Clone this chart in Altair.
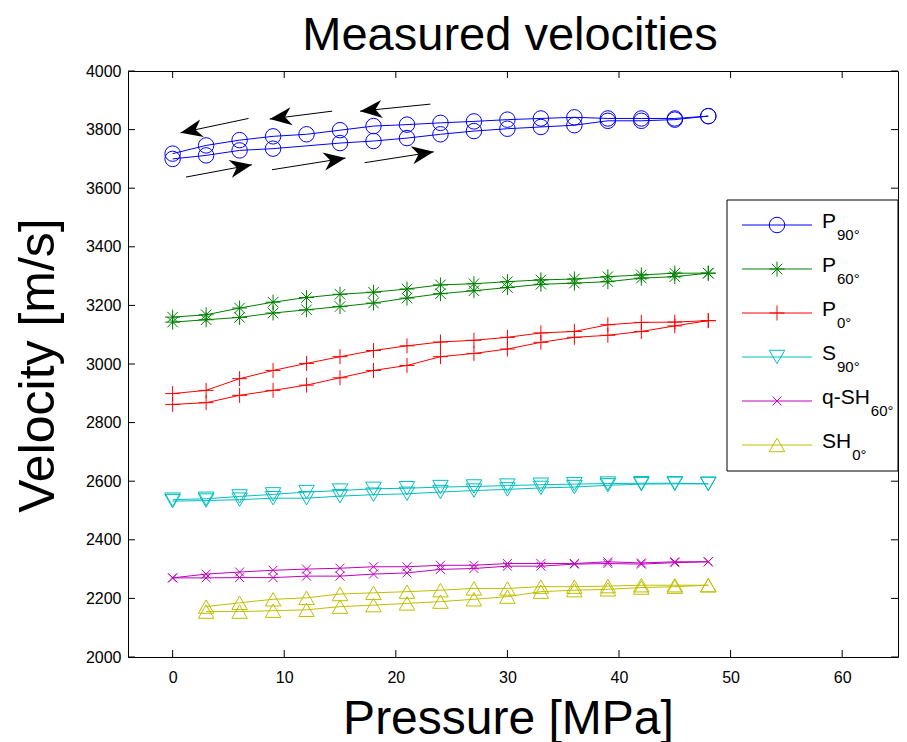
import math
import altair as alt
import pandas as pd

FONT = "Liberation Sans"

# ---------------- data ----------------
pressure = [0, 3, 6, 9, 12, 15, 18, 21, 24, 27, 30, 33, 36, 39, 42, 45, 48]
pressure_sh0 = [3, 6, 9, 12, 15, 18, 21, 24, 27, 30, 33, 36, 39, 42, 45, 48]

p90_loading = [3700, 3712, 3729, 3735, None, 3754, 3761, 3771, 3784, 3795, 3803, 3809, 3815, 3830, 3830, 3834, 3846]
p90_unloading = [3718, 3746, 3764, 3777, 3784, 3798, 3812, 3817, 3823, 3828, 3834, 3838, 3842, 3838, 3838, 3838, 3846]

p60_loading = [3143, 3151, 3159, 3174, 3185, 3196, 3208, 3225, 3240, 3250, 3261, 3272, 3276, 3281, 3293, 3298, 3310]
p60_unloading = [3160, 3168, 3191, 3211, 3227, 3238, 3245, 3256, 3270, 3274, 3281, 3287, 3290, 3298, 3304, 3310, 3310]

p0_loading = [2862, 2868, 2893, 2910, 2928, 2953, 2978, 2995, 3025, 3036, 3051, 3074, 3091, 3098, 3111, 3130, 3148]
p0_unloading = [2899, 2910, 2950, 2978, 3002, 3025, 3046, 3062, 3075, 3081, 3091, 3106, 3111, 3134, 3142, 3143, 3148]

s90_loading = [2532, 2534, 2537, 2542, 2542, 2549, 2554, 2557, 2563, 2568, 2572, 2577, 2580, 2586, 2590, 2591, 2591]
s90_unloading = [2537, 2540, 2548, 2555, 2563, 2568, 2574, 2576, 2580, 2582, 2585, 2588, 2590, 2592, 2593, 2593, 2591]

qsh60_loading = [2270, 2270, 2271, 2271, 2276, 2276, 2283, 2287, 2299, 2302, 2310, 2310, 2317, 2319, 2317, 2322, 2325]
qsh60_unloading = [2270, 2283, 2290, 2296, 2300, 2303, 2308, 2308, 2313, 2313, 2319, 2319, 2319, 2325, 2321, 2325, 2325]

sh0_loading = [2155, 2155, 2158, 2161, 2172, 2177, 2183, 2189, 2197, 2206, 2223, 2228, 2231, 2237, 2240, 2245]
sh0_unloading = [2172, 2185, 2197, 2202, 2215, 2219, 2223, 2228, 2234, 2234, 2240, 2240, 2242, 2245, 2245, 2245]

legend_main = ["P", "P", "P", "S", "q-SH", "SH"]
legend_sub = ["90°", "60°", "0°", "90°", "60°", "0°"]
series_colors = ["#0000FF", "#008000", "#FF0000", "#00BFBF", "#BF00BF", "#BFBF00"]

x_ticks = [0, 10, 20, 30, 40, 50, 60]
y_ticks = [2000, 2200, 2400, 2600, 2800, 3000, 3200, 3400, 3600, 3800, 4000]

chart_title = "Measured velocities"

# direction arrows (data coordinates): start -> tip
arrow_x1 = [1.2, 8.9, 17.2, 6.8, 14.3, 23.1]
arrow_v1 = [3638, 3663, 3687, 3838, 3863, 3887]
arrow_x2 = [7.1, 15.5, 23.4, 0.7, 8.7, 16.8]
arrow_v2 = [3680, 3703, 3724, 3789, 3836, 3863]

# ---------------- styling ----------------
W, H = 770, 586
X_DOMAIN = [-4, 65]
Y_DOMAIN = [2000, 4000]

ASTERISK = "M0,-1L0,1M-1,0L1,0M-0.7,-0.7L0.7,0.7M-0.7,0.7L0.7,-0.7"
PLUS = "M0,-1L0,1M-1,0L1,0"
XMARK = "M-1,-1L1,1M-1,1L1,-1"
ARROWHEAD = "M0,0L-2,-0.82L-1.4,0L-2,0.82Z"
series_shapes = ["circle", ASTERISK, PLUS, "triangle-down", XMARK, "triangle-up"]
series_sizes = [240, 225, 225, 240, 81, 240]

X_SCALE = alt.Scale(domain=X_DOMAIN, nice=False, zero=False)
Y_SCALE = alt.Scale(domain=Y_DOMAIN, nice=False, zero=False)
X_AXIS = alt.Axis(values=x_ticks, title="Pressure [MPa]", grid=False, ticks=False, tickSize=0,
                  domain=False, labelFont=FONT, labelFontSize=16, labelColor="black",
                  labelPadding=12, titleFont=FONT, titleFontSize=48, titleFontWeight="normal",
                  titleColor="black", titleBaseline="alphabetic", titleAlign="center",
                  titleX=380, titleY=76)
Y_AXIS = alt.Axis(values=y_ticks, format="d", title="Velocity [m/s]", grid=False, ticks=False,
                  tickSize=0, domain=False, labelFont=FONT, labelFontSize=16,
                  labelColor="black", labelPadding=7, titleFont=FONT, titleFontSize=50,
                  titleFontWeight="normal", titleColor="black", titleAngle=270,
                  titleBaseline="alphabetic", titleAlign="center", titleX=-75, titleY=294)


def xenc(f):
    return alt.X(f"{f}:Q", scale=X_SCALE, axis=X_AXIS)


def yenc(f):
    return alt.Y(f"{f}:Q", scale=Y_SCALE, axis=Y_AXIS)


series_data = [
    (pressure, p90_loading, p90_unloading),
    (pressure, p60_loading, p60_unloading),
    (pressure, p0_loading, p0_unloading),
    (pressure, s90_loading, s90_unloading),
    (pressure, qsh60_loading, qsh60_unloading),
    (pressure_sh0, sh0_loading, sh0_unloading),
]

layers = []
for i, (ps, load, unload) in enumerate(series_data):
    rows = []
    for branch, vals in (("loading", load), ("unloading", unload)):
        for p, v in zip(ps, vals):
            if v is not None:
                rows.append({"p": p, "v": v, "branch": branch})
    df = pd.DataFrame(rows)
    color = series_colors[i]
    layers.append(
        alt.Chart(df).mark_line(color=color, strokeWidth=1).encode(
            x=xenc("p"), y=yenc("v"), detail="branch:N")
    )
    layers.append(
        alt.Chart(df).mark_point(shape=series_shapes[i], size=series_sizes[i], color=color,
                                 filled=False, strokeWidth=1, opacity=1).encode(
            x=xenc("p"), y=yenc("v"))
    )

# arrows
px_per_x = W / (X_DOMAIN[1] - X_DOMAIN[0])
px_per_v = H / (Y_DOMAIN[1] - Y_DOMAIN[0])
arrow_df = pd.DataFrame({"p": arrow_x1, "v": arrow_v1, "p2": arrow_x2, "v2": arrow_v2})
arrow_df["ang"] = [
    math.degrees(math.atan2(-(b2 - b1) * px_per_v, (a2 - a1) * px_per_x)) % 360
    for a1, b1, a2, b2 in zip(arrow_x1, arrow_v1, arrow_x2, arrow_v2)
]
layers.append(
    alt.Chart(arrow_df).mark_rule(color="black", strokeWidth=1).encode(
        x=xenc("p"), y=yenc("v"), x2="p2:Q", y2="v2:Q")
)
layers.append(
    alt.Chart(arrow_df).mark_point(shape=ARROWHEAD, size=484, filled=True, color="black",
                                   opacity=1, strokeWidth=0).encode(
        x=xenc("p2"), y=yenc("v2"), angle=alt.Angle("ang:Q", scale=None))
)

# inward ticks on all four sides
xt = pd.DataFrame({"p": x_ticks})
yt = pd.DataFrame({"v": y_ticks})
layers.append(alt.Chart(xt).mark_rule(color="black", strokeWidth=1).encode(
    x=xenc("p"), y=alt.value(H), y2=alt.value(H - 7)))
layers.append(alt.Chart(xt).mark_rule(color="black", strokeWidth=1).encode(
    x=xenc("p"), y=alt.value(0), y2=alt.value(7)))
layers.append(alt.Chart(yt).mark_rule(color="black", strokeWidth=1).encode(
    y=yenc("v"), x=alt.value(0), x2=alt.value(7)))
layers.append(alt.Chart(yt).mark_rule(color="black", strokeWidth=1).encode(
    y=yenc("v"), x=alt.value(W), x2=alt.value(W - 7)))

one = pd.DataFrame({"a": [0]})

# title
layers.append(alt.Chart(one).mark_text(text=chart_title, font=FONT, fontSize=47,
                                       align="center", baseline="alphabetic",
                                       color="black").encode(
    x=alt.value(382), y=alt.value(-21)))

# legend box
LX0, LX1, LY0, LY1 = 599, 770, 129, 400
layers.append(alt.Chart(one).mark_rect(fill="white", stroke="black", strokeWidth=1).encode(
    x=alt.value(LX0), x2=alt.value(LX1), y=alt.value(LY0), y2=alt.value(LY1)))

CHAR_W = {"P": 0.667, "S": 0.667, "q": 0.556, "-": 0.333, "H": 0.722}
MAIN_FS, SUB_FS = 21, 15
for i in range(len(legend_main)):
    ry = 154 + 44 * i
    color = series_colors[i]
    layers.append(alt.Chart(one).mark_rule(color=color, strokeWidth=1).encode(
        x=alt.value(614), x2=alt.value(684), y=alt.value(ry)))
    layers.append(alt.Chart(one).mark_point(shape=series_shapes[i], size=series_sizes[i],
                                            color=color, filled=False, strokeWidth=1,
                                            opacity=1).encode(
        x=alt.value(649), y=alt.value(ry)))
    tx = 694
    layers.append(alt.Chart(one).mark_text(text=legend_main[i], font=FONT, fontSize=MAIN_FS,
                                           align="left", baseline="alphabetic",
                                           color="black").encode(
        x=alt.value(tx), y=alt.value(ry + 3)))
    wmain = sum(CHAR_W.get(c, 0.6) for c in legend_main[i]) * MAIN_FS
    layers.append(alt.Chart(one).mark_text(text=legend_sub[i], font=FONT, fontSize=SUB_FS,
                                           align="left", baseline="alphabetic",
                                           color="black").encode(
        x=alt.value(tx + wmain + 1), y=alt.value(ry + 15)))

chart = alt.layer(*layers).properties(
    width=W, height=H,
    autosize=alt.AutoSizeParams(type="none"),
    padding={"left": 120, "top": 63, "right": 1, "bottom": 85},
    background="white",
).configure_view(stroke="black", strokeWidth=1)

chart.save("out.html", embed_options={"renderer": "svg", "actions": False})
